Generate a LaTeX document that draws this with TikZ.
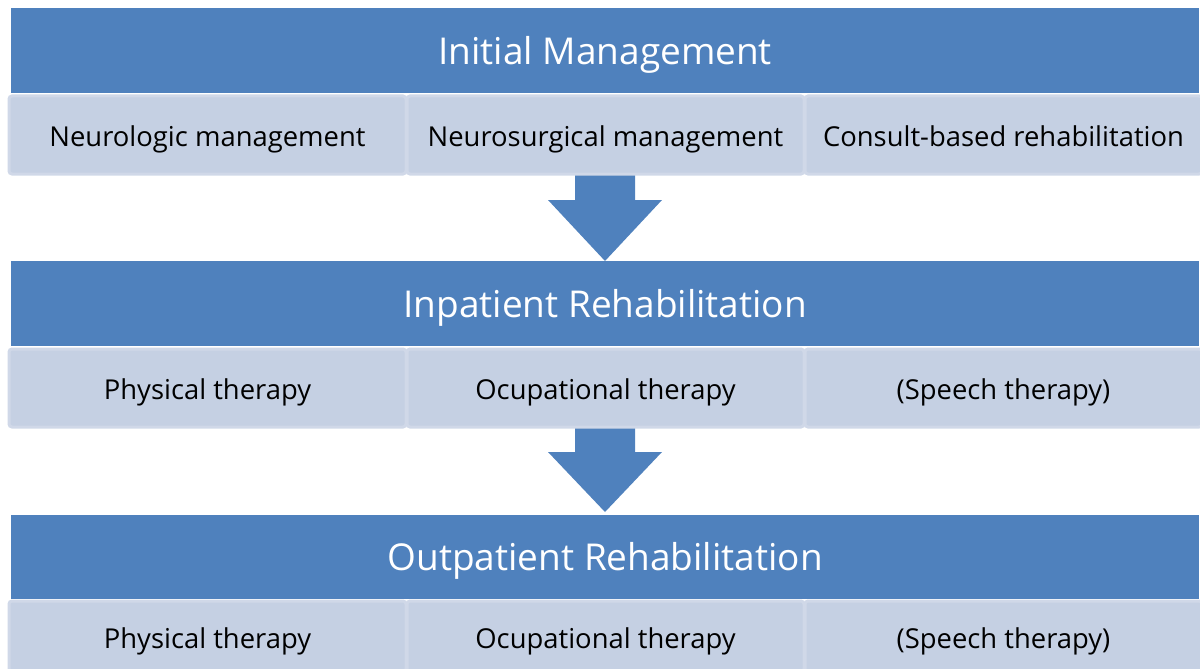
\documentclass[tikz,border=0pt]{standalone}
\usepackage{fontspec}
\setmainfont{Open Sans}
\definecolor{hdr}{HTML}{4F81BD}
\definecolor{cellfill}{HTML}{C5D0E3}
\definecolor{cellline}{HTML}{D0D8E8}
\begin{document}
\begin{tikzpicture}[x=1pt,y=-1pt,
  header/.style={fill=hdr, draw=none, minimum width=1188pt, minimum height=85pt,
    inner sep=0pt, text=white, font=\fontsize{37}{42}\selectfont,
    text height=27pt, text depth=0pt, anchor=north west},
  cell/.style={fill=cellfill, draw=cellline, line width=3pt, rounded corners=3pt,
    minimum width=397pt, minimum height=78pt, inner sep=0pt,
    font=\fontsize{27.4}{32}\selectfont, text height=23pt, text depth=0pt,
    anchor=north west},
  lastcell/.style={cell, minimum height=71pt},
  flow/.style={fill=hdr, draw=none}]
\useasboundingbox (0,0) rectangle (1200,669);
\clip (0,0) rectangle (1200,669);

% block arrows between the stages
\fill[flow] (575,172) -- (635,172) -- (635,200) -- (662,200) -- (605,261)
  -- (548,200) -- (575,200) -- cycle;
\fill[flow] (575,426) -- (635,426) -- (635,452) -- (662,452) -- (605,512)
  -- (548,452) -- (575,452) -- cycle;

% stage 1
\node[header] (h1) at (11,8) {Initial Management};
\node[cell] (c11) at (7.5,94.5) {Neurologic management};
\node[cell] (c12) at (405.5,94.5) {Neurosurgical management};
\node[cell] (c13) at (803.5,94.5) {Consult-based rehabilitation};

% stage 2
\node[header] (h2) at (11,261) {Inpatient Rehabilitation};
\node[cell] (c21) at (7.5,347.5) {Physical therapy};
\node[cell] (c22) at (405.5,347.5) {Ocupational therapy};
\node[cell] (c23) at (803.5,347.5) {(Speech therapy)};

% stage 3 (its row runs past the lower edge)
\node[header, minimum height=84pt] (h3) at (11,515) {Outpatient Rehabilitation};
\node[lastcell] (c31) at (7.5,599.5) {Physical therapy};
\node[lastcell] (c32) at (405.5,599.5) {Ocupational therapy};
\node[lastcell] (c33) at (803.5,599.5) {(Speech therapy)};
\end{tikzpicture}
\end{document}
